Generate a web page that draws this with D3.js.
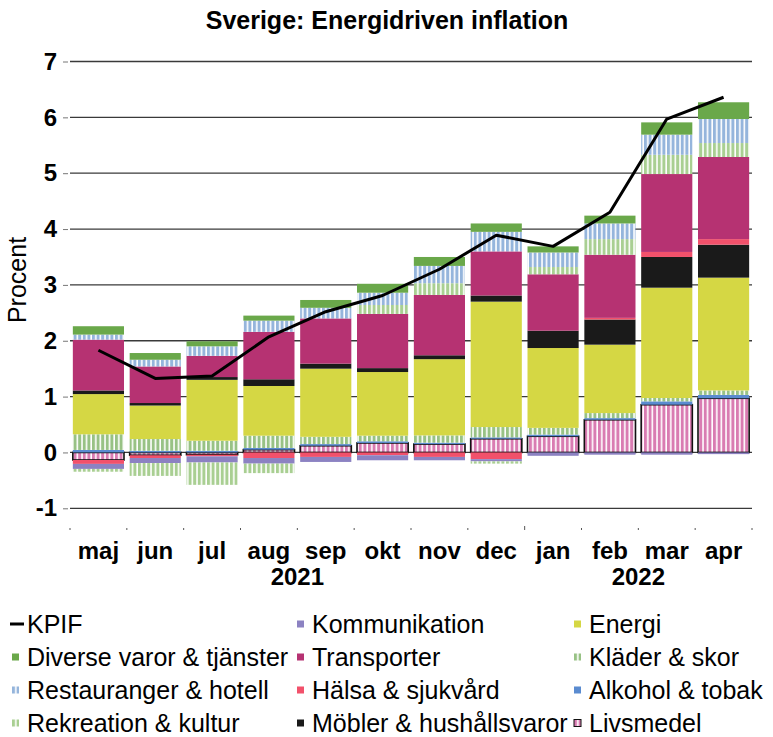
<!DOCTYPE html>
<html>
<head>
<meta charset="utf-8">
<script src="https://cdn.jsdelivr.net/npm/d3@7"></script>
<style>
  body { margin: 0; background: #fff; }
  text { font-family: "Liberation Sans", Arial, sans-serif; fill: #000; }
</style>
</head>
<body>
<div id="chart"></div>
<script>
// data
const months = ['maj', 'jun', 'jul', 'aug', 'sep', 'okt', 'nov', 'dec', 'jan', 'feb', 'mar', 'apr'];
const yearLabels = ['2021', '2022'];
const yearFirst = ['maj', 'jan'];
const yearLast = ['dec', 'apr'];
const yTicks = [-1, 0, 1, 2, 3, 4, 5, 6, 7];

const livsmedel     = [-0.135, -0.05, -0.04, 0.05, 0.12, 0.17, 0.15, 0.245, 0.29, 0.585, 0.855, 0.97];
const alkohol       = [0.045, 0.03, 0.03, 0.03, 0.03, 0.03, 0.025, 0.025, 0.03, 0.03, 0.06, 0.06];
const klader        = [0.28, 0.21, 0.18, 0.22, 0.13, 0.10, 0.13, 0.185, 0.12, 0.09, 0.06, 0.08];
const energi        = [0.72, 0.60, 1.09, 0.89, 1.22, 1.14, 1.365, 2.245, 1.43, 1.225, 1.975, 2.02];
const mobler        = [0.065, 0.045, 0.05, 0.12, 0.09, 0.07, 0.07, 0.11, 0.31, 0.45, 0.55, 0.59];
const halsa         = [-0.07, -0.05, -0.03, -0.10, -0.08, -0.05, -0.08, -0.12, 0, 0.03, 0.09, 0.10];
const transporter   = [0.91, 0.655, 0.38, 0.85, 0.81, 0.97, 1.08, 0.79, 1.01, 1.13, 1.395, 1.47];
const kommunikation = [-0.09, -0.09, -0.11, -0.10, -0.09, -0.09, -0.06, -0.04, -0.06, -0.04, -0.04, -0.03];
const rekreation    = [-0.05, -0.23, -0.40, -0.17, 0, 0.16, 0.21, -0.04, 0.13, 0.28, 0.345, 0.25];
const restauranger  = [0.09, 0.12, 0.17, 0.20, 0.19, 0.22, 0.31, 0.35, 0.26, 0.28, 0.36, 0.43];
const diverse       = [0.15, 0.12, 0.09, 0.09, 0.14, 0.16, 0.16, 0.15, 0.11, 0.14, 0.22, 0.30];
const kpif          = [1.83, 1.325, 1.37, 2.07, 2.52, 2.81, 3.28, 3.89, 3.69, 4.30, 5.97, 6.36];

// stack order bottom -> top, with name, colour and whether striped
const series = [
  { key: 'livsmedel', name: 'Livsmedel', values: livsmedel, color: '#d97cb2', striped: true },
  { key: 'alkohol', name: 'Alkohol & tobak', values: alkohol, color: '#5a8bd0' },
  { key: 'klader', name: 'Kläder & skor', values: klader, color: '#98c285', striped: true },
  { key: 'energi', name: 'Energi', values: energi, color: '#d5d744' },
  { key: 'mobler', name: 'Möbler & hushållsvaror', values: mobler, color: '#1a1a1a' },
  { key: 'halsa', name: 'Hälsa & sjukvård', values: halsa, color: '#f2516b' },
  { key: 'transporter', name: 'Transporter', values: transporter, color: '#b63272' },
  { key: 'kommunikation', name: 'Kommunikation', values: kommunikation, color: '#8c82c2' },
  { key: 'rekreation', name: 'Rekreation & kultur', values: rekreation, color: '#a9cf92', striped: true },
  { key: 'restauranger', name: 'Restauranger & hotell', values: restauranger, color: '#95b5dc', striped: true },
  { key: 'diverse', name: 'Diverse varor & tjänster', values: diverse, color: '#6aa84a' }
];

const legendOrder = ['kpif', 'diverse', 'restauranger', 'rekreation',
  'kommunikation', 'transporter', 'halsa', 'mobler',
  'energi', 'klader', 'alkohol', 'livsmedel'];

const width = 773;
const height = 737;

const svg = d3.select('#chart').append('svg')
  .attr('width', width)
  .attr('height', height);

// stripe patterns
const defs = svg.append('defs');
series.filter(s => s.striped).forEach(s => {
  const p = defs.append('pattern')
    .attr('id', 'pat-' + s.key)
    .attr('patternUnits', 'userSpaceOnUse')
    .attr('width', 4.6)
    .attr('height', 10);
  p.append('rect').attr('width', 4.6).attr('height', 10).attr('fill', '#fff');
  p.append('rect').attr('width', 3).attr('height', 10).attr('fill', s.color);
});
const fillOf = s => s.striped ? `url(#pat-${s.key})` : s.color;

const table = months.map((m, i) => {
  const row = { month: m };
  series.forEach(s => { row[s.key] = s.values[i]; });
  return row;
});

const x = d3.scaleBand()
  .domain(months)
  .range([70, 752])
  .paddingInner(0.1)
  .paddingOuter(0.05);

const y = d3.scaleLinear()
  .domain([-1, 7])
  .range([508.3, 61.5]);

// gridlines
svg.append('g').selectAll('line')
  .data(yTicks)
  .enter().append('line')
  .attr('x1', 70).attr('x2', 752)
  .attr('y1', d => y(d)).attr('y2', d => y(d))
  .attr('stroke', '#3a3a3a')
  .attr('stroke-width', 1.3);

// y axis
const yAxis = d3.axisLeft(y)
  .tickValues(yTicks)
  .tickFormat(d => String(d))
  .tickSize(5)
  .tickPadding(6);
const gy = svg.append('g')
  .attr('transform', 'translate(68,0)')
  .call(yAxis);
gy.select('.domain').remove();
gy.selectAll('.tick line').attr('stroke', '#777');
gy.selectAll('.tick text')
  .attr('font-size', 24)
  .attr('font-weight', 'bold')
  .attr('font-family', '"Liberation Sans", Arial, sans-serif')
  .attr('fill', '#000');

// stacked bars
const stack = d3.stack()
  .keys(series.map(s => s.key))
  .offset(d3.stackOffsetDiverging);
const stacked = stack(table);

const groups = svg.append('g').selectAll('g')
  .data(stacked)
  .enter().append('g')
  .attr('fill', d => fillOf(series[d.index]));

groups.selectAll('rect')
  .data(d => d.map(v => ({ v, key: d.key })))
  .enter().append('rect')
  .attr('x', d => x(d.v.data.month))
  .attr('width', x.bandwidth())
  .attr('y', d => y(Math.max(d.v[0], d.v[1])))
  .attr('height', d => Math.abs(y(d.v[0]) - y(d.v[1])))
  .attr('stroke', d => d.key === 'livsmedel' ? '#111' : 'none')
  .attr('stroke-width', 1.6);

// KPIF line
const line = d3.line()
  .x((d, i) => x(months[i]) + x.bandwidth() / 2)
  .y(d => y(d));
svg.append('path')
  .datum(kpif)
  .attr('d', line)
  .attr('fill', 'none')
  .attr('stroke', '#000')
  .attr('stroke-width', 3)
  .attr('stroke-linejoin', 'round');

// category axis
const axisY = 528;
const gx = svg.append('g')
  .attr('transform', `translate(0,${axisY})`)
  .call(d3.axisBottom(x).tickSize(0).tickPadding(14));
gx.select('.domain').remove();
gx.selectAll('.tick text')
  .attr('font-size', 24)
  .attr('font-weight', 'bold')
  .attr('font-family', '"Liberation Sans", Arial, sans-serif')
  .attr('fill', '#000');

// small tick marks between categories
const bounds = months.map(m => x(m) - x.step() * x.paddingInner() / 2);
bounds.push(x(months[months.length - 1]) + x.bandwidth() + x.step() * x.paddingInner() / 2);
svg.append('g').selectAll('line')
  .data(bounds)
  .enter().append('line')
  .attr('x1', d => d).attr('x2', d => d)
  .attr('y1', (d, i) => i === 8 ? axisY - 2 : axisY)
  .attr('y2', axisY + 2)
  .attr('stroke', '#555')
  .attr('stroke-width', 1);

// year labels
svg.append('g').selectAll('text')
  .data(yearLabels)
  .enter().append('text')
  .attr('x', (d, i) => (x(yearFirst[i]) + x(yearLast[i]) + x.bandwidth()) / 2)
  .attr('y', 585)
  .attr('text-anchor', 'middle')
  .attr('font-size', 24)
  .attr('font-weight', 'bold')
  .text(d => d);

// title
svg.append('text')
  .attr('x', 387)
  .attr('y', 29)
  .attr('text-anchor', 'middle')
  .attr('font-size', 25)
  .attr('font-weight', 'bold')
  .text('Sverige: Energidriven inflation');

// y axis title
svg.append('text')
  .attr('transform', 'translate(26,280) rotate(-90)')
  .attr('text-anchor', 'middle')
  .attr('font-size', 25)
  .text('Procent');

// legend
const colX = [12, 297, 574];
const rowY = [624, 657, 690, 723];
const byKey = {};
series.forEach(s => { byKey[s.key] = s; });

const legend = svg.append('g');
legendOrder.forEach((k, i) => {
  const col = Math.floor(i / 4);
  const row = i % 4;
  const gx0 = colX[col];
  const gy0 = rowY[row];
  const item = legend.append('g').attr('transform', `translate(${gx0},${gy0})`);
  if (k === 'kpif') {
    item.append('rect')
      .attr('x', -2).attr('y', -1.5)
      .attr('width', 14).attr('height', 3)
      .attr('fill', '#000');
    item.append('text')
      .attr('x', 15).attr('y', 0)
      .attr('dy', '0.35em')
      .attr('font-size', 25)
      .text('KPIF');
  } else {
    const s = byKey[k];
    item.append('rect')
      .attr('x', 0).attr('y', -3.5)
      .attr('width', 7).attr('height', 7)
      .attr('fill', fillOf(s))
      .attr('stroke', k === 'livsmedel' ? '#111' : 'none')
      .attr('stroke-width', 1);
    item.append('text')
      .attr('x', 15).attr('y', 0)
      .attr('dy', '0.35em')
      .attr('font-size', 25)
      .text(s.name);
  }
});
</script>
</body>
</html>
